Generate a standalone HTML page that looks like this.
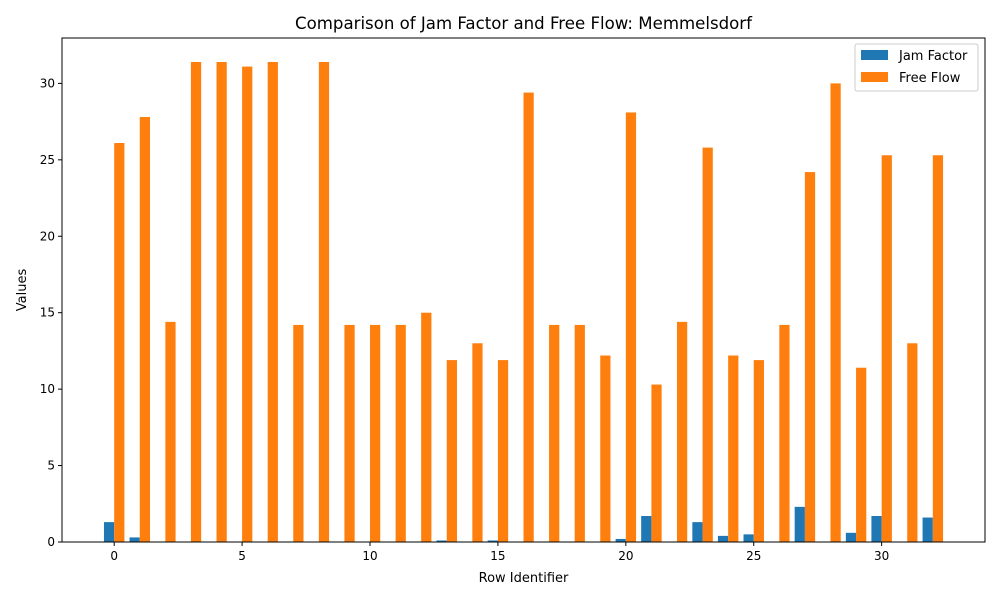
<!DOCTYPE html>
<html><head><meta charset="utf-8"><style>
body{margin:0;background:#fff;font-family:"Liberation Sans","DejaVu Sans",sans-serif;}
svg text{font-family:"DejaVu Sans","Liberation Sans",sans-serif;}
</style></head><body>
<svg id="chart" width="1000" height="600">
<rect width="1000" height="600" fill="#fff"/>
<g id="marks"></g>
<g id="axes"></g>
<text x="523.5" y="29" text-anchor="middle" font-size="16.6">Comparison of Jam Factor and Free Flow: Memmelsdorf</text>
<text x="523.5" y="582" text-anchor="middle" font-size="13">Row Identifier</text>
<text transform="translate(26,290) rotate(-90)" text-anchor="middle" font-size="13">Values</text>
<g>
<rect x="855" y="44" width="123" height="47" fill="#fff" stroke="#ccc" rx="2"/>
<rect x="861" y="50" width="27" height="10" fill="#1f77b4"/>
<text x="899" y="60" font-size="13">Jam Factor</text>
<rect x="861" y="72" width="27" height="10" fill="#ff7f0e"/>
<text x="899" y="82" font-size="13">Free Flow</text>
</g>
</svg>
<script>
const categories=[0,1,2,3,4,5,6,7,8,9,10,11,12,13,14,15,16,17,18,19,20,21,22,23,24,25,26,27,28,29,30,31,32];
const jamFactor=[1.3,0.3,0,0,0,0,0,0,0,0,0,0,0,0.1,0,0.1,0,0,0,0,0.2,1.7,0,1.3,0.4,0.5,0,2.3,0,0.6,1.7,0,1.6];
const freeFlow=[26.1,27.8,14.4,31.4,31.4,31.1,31.4,14.2,31.4,14.2,14.2,14.2,15.0,11.9,13.0,11.9,29.4,14.2,14.2,12.2,28.1,10.3,14.4,25.8,12.2,11.9,14.2,24.2,30.0,11.4,25.3,13.0,25.3];
const xTicks=[0,5,10,15,20,25,30];
const yTicks=[0,5,10,15,20,25,30];
const NS="http://www.w3.org/2000/svg";
const L=62,R=985,T=38,B=542;
const xmin=-2.04,xmax=34.04,ymax=32.97;
const xs=v=>L+(v-xmin)/(xmax-xmin)*(R-L);
const ys=v=>B-v/ymax*(B-T);
const marks=document.getElementById('marks'),axes=document.getElementById('axes');
function mk(tag,attrs,parent){const e=document.createElementNS(NS,tag);for(const k in attrs)e.setAttribute(k,attrs[k]);parent.appendChild(e);return e;}
const bw=0.4;
categories.forEach((c,i)=>{
 const x1=xs(c-bw),x2=xs(c);
 const r1=mk('rect',{x:x1,y:ys(jamFactor[i]),width:x2-x1,height:B-ys(jamFactor[i]),fill:'#1f77b4'},marks);
 
 
 const x3=xs(c+bw);
 const r2=mk('rect',{x:x2,y:ys(freeFlow[i]),width:x3-x2,height:B-ys(freeFlow[i]),fill:'#ff7f0e'},marks);
 
 
});
const frame=mk('rect',{x:L,y:T,width:R-L,height:B-T,fill:'none',stroke:'#000','stroke-width':1},axes);


xTicks.forEach(t=>{
 const x=xs(t);
 mk('line',{x1:x,x2:x,y1:B,y2:B+4,stroke:'#000'},axes);
 const tx=mk('text',{x:x,y:B+18,'text-anchor':'middle','font-size':12},axes);
 tx.textContent=t;
 
 
});
yTicks.forEach(t=>{
 const y=ys(t);
 mk('line',{x1:L-4,x2:L,y1:y,y2:y,stroke:'#000'},axes);
 const tx=mk('text',{x:L-7,y:y+4,'text-anchor':'end','font-size':12},axes);
 tx.textContent=t;
 
 
});
</script>
</body></html>
